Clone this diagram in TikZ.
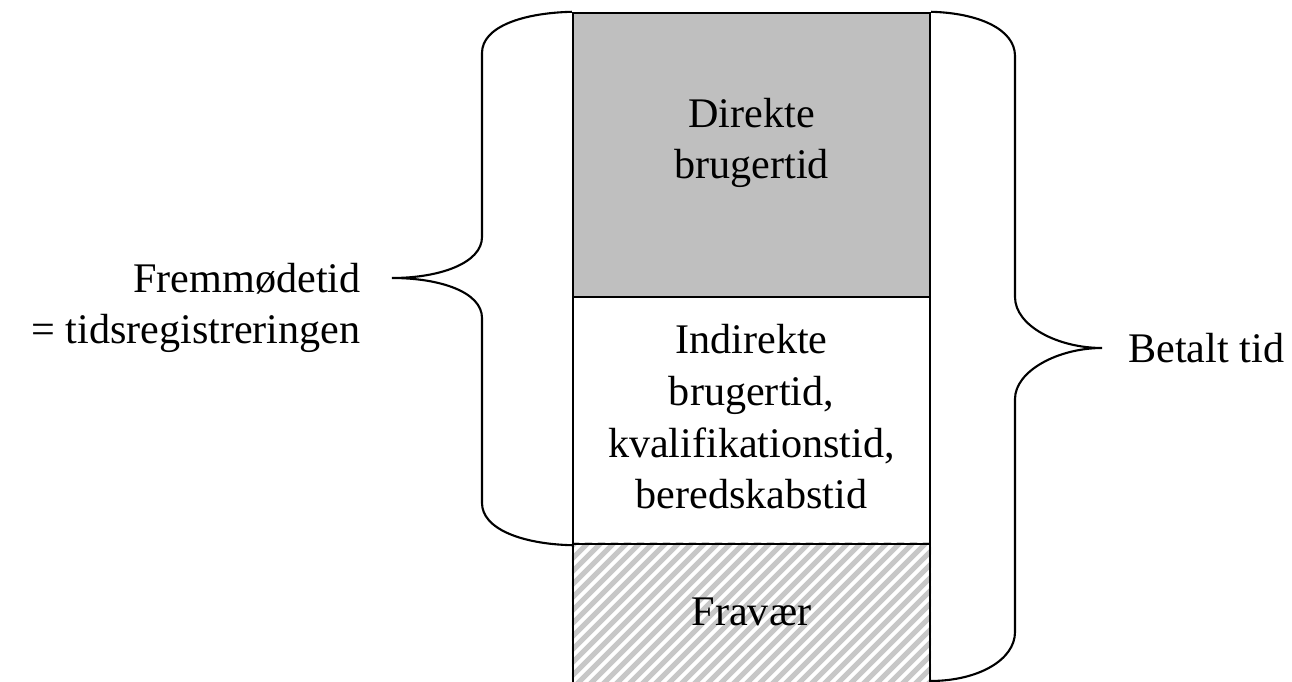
\documentclass[tikz,border=0pt]{standalone}
\usepackage{fontspec}
\setmainfont{Liberation Serif}
\usetikzlibrary{positioning,backgrounds}

\begin{document}
\begin{tikzpicture}[x=0.02cm, y=-0.02cm,
    sec/.style={rectangle, draw=black, line width=1.4pt, minimum width=7.14cm, inner sep=0pt},
    txt/.style={align=center, font=\fontsize{24}{29.4}\selectfont, inner sep=0pt},
    brace/.style={draw=black, line width=1.2pt},
    stripe/.style={draw=black!22, line width=0.1cm}
]
    \useasboundingbox (0,0) rectangle (1292,682);
    % the three parts of the time
    \node[sec, fill=black!25, minimum height=5.68cm] (direkte)   at (751.5,155)   {};
    \node[sec, minimum height=4.94cm]                (indirekte) at (751.5,420.5) {};
    \node[sec, minimum height=2.80cm]                (fravaer)   at (751.5,614)   {};
    \begin{scope}[on background layer]
        \clip (fravaer.south west) rectangle (fravaer.north east);
        \foreach \x in {353,366,...,940}
            \draw[stripe] (\x,700) -- ++(200,-200);
    \end{scope}
    \node[txt] (dtxt) at (751.5,143) {Direkte\\brugertid};
    \node[txt] (itxt) at (751.5,417) {Indirekte\\brugertid,\\kvalifikationstid,\\beredskabstid};
    \node[txt] (ftxt) at (751.5,612) {Fravær};
    % braces
    \coordinate (ltip) at (392,278);
    \coordinate (rtip) at (1102,348);
    \draw[brace] (direkte.north west) .. controls (522,13) and (482,27) .. (482,53)
        -- (482,237) .. controls (482,263) and (440,278) .. (ltip)
        .. controls (440,278) and (482,292) .. (482,318)
        -- (482,503) .. controls (482,529) and (522,544) .. (indirekte.south west);
    \draw[brace] (direkte.north east) .. controls (978,13) and (1015,29) .. (1015,56)
        -- (1015,297) .. controls (1015,326) and (1058,348) .. (rtip)
        .. controls (1058,348) and (1015,371) .. (1015,399)
        -- (1015,632) .. controls (1015,660) and (978,681) .. (930,681);
    \node[txt, align=right, anchor=east] (fremmoede) at (361,308) {Fremmødetid\\= tidsregistreringen};
    \node[txt, anchor=west] (betalt) at (1128,348) {Betalt tid};
\end{tikzpicture}
\end{document}
